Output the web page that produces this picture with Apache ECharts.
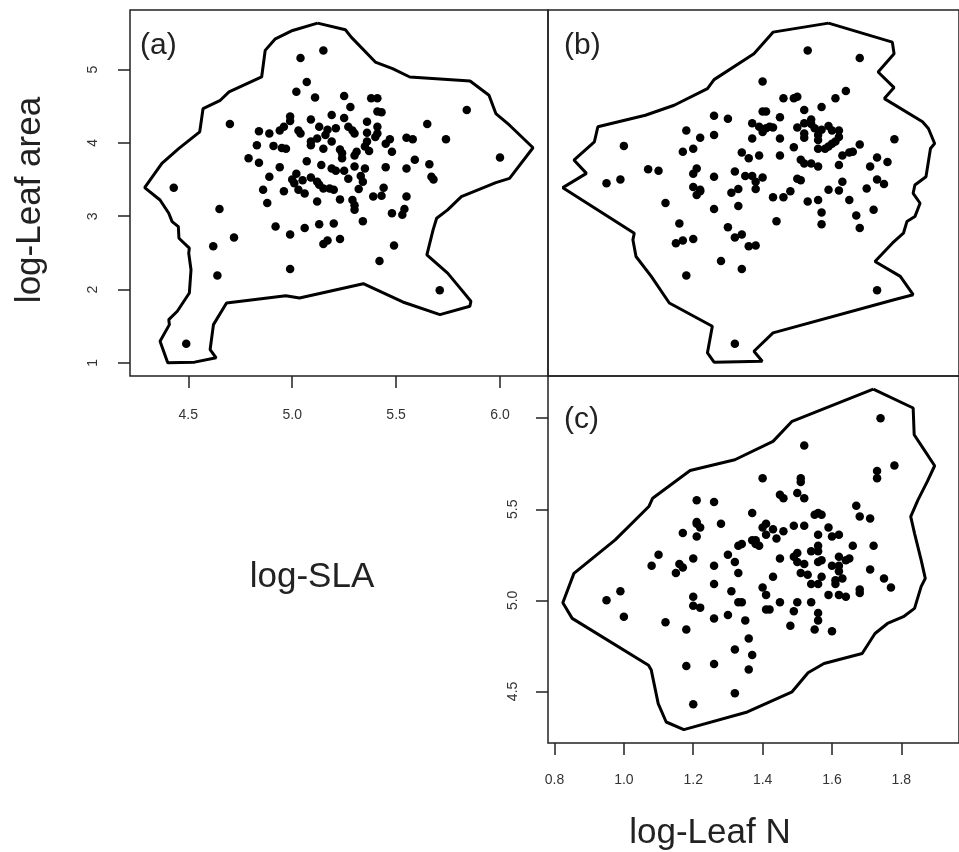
<!DOCTYPE html>
<html><head><meta charset="utf-8">
<script src="https://cdn.jsdelivr.net/npm/echarts@6/dist/echarts.min.js"></script>
<style>html,body{margin:0;padding:0;background:#fff}#c{width:959px;height:852px}</style>
</head><body><div id="c"></div>
<script>
// tick values
const slaTicks = [4.5, 5.0, 5.5, 6.0];
const leafAreaTicks = [1, 2, 3, 4, 5];
const leafNTicks = [0.8, 1.0, 1.2, 1.4, 1.6, 1.8];
const slaTicksC = [4.5, 5.0, 5.5, 6.0];
const slaLabelsC = [4.5, 5.0, 5.5];

// panel (a): [log-SLA, log-Leaf area]
const panelA = [[5.07,4.83],[5.02,4.70],[5.11,4.62],[5.25,4.64],[5.38,4.61],[5.41,4.61],[5.28,4.49],[5.41,4.43],[5.43,4.42],[5.84,4.45],
[4.99,4.36],[4.99,4.30],[5.19,4.38],[5.25,4.34],[5.09,4.32],[5.36,4.29],[4.70,4.26],[4.96,4.22],[4.94,4.17],[4.84,4.16],
[4.89,4.13],[5.03,4.17],[5.04,4.13],[5.13,4.22],[5.17,4.18],[5.21,4.20],[5.27,4.22],[5.29,4.17],[5.30,4.13],[5.36,4.14],
[5.41,4.22],[5.41,4.13],[5.65,4.26],[5.12,4.06],[5.09,4.02],[5.09,3.97],[5.16,4.11],[5.19,4.02],[5.40,4.08],[5.47,4.05],
[5.45,3.99],[5.55,4.07],[5.58,4.05],[5.74,4.05],[4.83,3.97],[4.91,3.96],[4.95,3.93],[4.97,3.92],[5.36,4.02],[5.35,3.95],
[5.37,3.89],[5.15,3.92],[5.23,3.91],[5.24,3.86],[5.24,3.79],[5.31,3.88],[5.30,3.83],[5.48,3.88],[4.79,3.79],[4.84,3.73],
[5.07,3.75],[5.14,3.70],[5.59,3.77],[5.66,3.71],[4.94,3.67],[5.19,3.65],[5.21,3.62],[5.25,3.62],[5.30,3.68],[5.35,3.65],
[5.45,3.67],[5.55,3.65],[4.89,3.54],[5.09,3.53],[5.02,3.58],[5.67,3.54],[5.68,3.50],[5.00,3.50],[5.01,3.45],[5.05,3.49],
[5.12,3.47],[5.13,3.43],[5.27,3.51],[5.33,3.55],[5.34,3.47],[4.86,3.36],[4.96,3.34],[5.03,3.36],[5.06,3.31],[5.15,3.38],
[5.18,3.38],[5.20,3.36],[5.32,3.37],[5.44,3.39],[4.88,3.18],[5.12,3.20],[5.23,3.23],[5.29,3.22],[5.30,3.15],[5.30,3.09],
[5.39,3.27],[5.43,3.28],[5.55,3.27],[5.54,3.10],[5.53,3.02],[5.48,3.04],[4.92,2.86],[4.99,2.75],[5.06,2.84],[5.13,2.89],
[5.20,2.90],[5.34,2.93],[4.72,2.71],[5.15,2.62],[5.17,2.67],[5.23,2.69],[5.49,2.60],
[5.15,5.26],[5.04,5.16],[4.43,3.39],[4.65,3.10],[4.62,2.59],[4.64,2.19],[5.42,2.39],[4.99,2.28],[5.71,1.99],[4.49,1.26],[6.00,3.80]];

// panel (b): [log-Leaf N, log-Leaf area]
const panelB = [[1.53,5.26],[1.68,5.16],[1.40,4.84],[1.64,4.71],[1.61,4.61],[1.46,4.61],[1.49,4.61],[1.50,4.63],[1.57,4.49],[1.52,4.45],
[1.26,4.37],[1.30,4.33],[1.40,4.43],[1.41,4.43],[1.45,4.35],[1.37,4.27],[1.39,4.22],[1.40,4.15],[1.41,4.20],[1.42,4.22],
[1.43,4.21],[1.50,4.21],[1.52,4.27],[1.54,4.32],[1.54,4.26],[1.55,4.20],[1.52,4.13],[1.52,4.07],[1.59,4.23],[1.57,4.18],
[1.56,4.11],[1.56,4.04],[1.56,3.92],[1.58,3.92],[1.59,3.95],[1.60,3.99],[1.61,4.02],[1.62,4.08],[1.62,4.17],[1.60,4.17],
[1.18,4.17],[1.26,4.11],[1.22,4.07],[1.37,4.06],[1.45,4.06],[1.78,4.05],[1.00,3.96],[1.17,3.88],[1.20,3.92],[1.34,3.87],
[1.39,3.83],[1.36,3.79],[1.45,3.83],[1.49,3.94],[1.68,3.98],[1.66,3.88],[1.65,3.87],[1.63,3.83],[1.73,3.80],[1.76,3.74],
[1.51,3.77],[1.52,3.72],[1.54,3.72],[1.56,3.68],[1.62,3.70],[1.71,3.68],[1.07,3.64],[1.10,3.62],[1.21,3.65],[1.20,3.58],
[1.26,3.54],[1.32,3.61],[1.35,3.55],[1.37,3.55],[1.40,3.53],[1.38,3.47],[1.50,3.51],[1.51,3.49],[1.63,3.47],[1.73,3.50],
[1.75,3.44],[0.95,3.45],[0.99,3.50],[1.20,3.40],[1.22,3.36],[1.21,3.29],[1.22,3.34],[1.33,3.37],[1.38,3.37],[1.31,3.32],
[1.48,3.34],[1.59,3.36],[1.62,3.35],[1.70,3.38],[1.43,3.26],[1.46,3.26],[1.53,3.20],[1.56,3.22],[1.65,3.22],[1.12,3.18],
[1.26,3.10],[1.33,3.14],[1.57,3.05],[1.67,3.01],[1.72,3.09],[1.16,2.90],[1.44,2.93],[1.57,2.89],[1.30,2.85],[1.68,2.84],
[1.34,2.75],[1.32,2.71],[1.15,2.63],[1.17,2.67],[1.20,2.69],[1.36,2.59],[1.38,2.60],[1.28,2.39],[1.34,2.28],[1.18,2.19],
[1.73,1.99],[1.32,1.26]];

// panel (c): [log-Leaf N, log-SLA]
const panelC = [[1.74,6.00],[1.52,5.85],[1.78,5.74],[1.73,5.71],[1.73,5.67],[1.40,5.67],[1.51,5.67],[1.51,5.65],[1.50,5.59],[1.52,5.56],
[1.45,5.58],[1.46,5.56],[1.21,5.55],[1.26,5.54],[1.67,5.52],[1.37,5.48],[1.56,5.48],[1.57,5.47],[1.55,5.47],[1.68,5.46],
[1.71,5.45],[1.21,5.43],[1.21,5.42],[1.22,5.40],[1.28,5.42],[1.41,5.42],[1.40,5.40],[1.49,5.41],[1.52,5.41],[1.59,5.40],
[1.43,5.39],[1.46,5.38],[1.17,5.37],[1.21,5.35],[1.41,5.36],[1.44,5.34],[1.56,5.36],[1.60,5.35],[1.62,5.36],[1.37,5.33],
[1.38,5.33],[1.38,5.31],[1.39,5.30],[1.34,5.31],[1.33,5.30],[1.66,5.30],[1.72,5.30],[1.10,5.25],[1.30,5.25],[1.20,5.23],
[1.32,5.21],[1.45,5.23],[1.50,5.26],[1.49,5.24],[1.54,5.27],[1.56,5.30],[1.56,5.27],[1.57,5.22],[1.62,5.24],[1.65,5.23],
[1.64,5.22],[1.08,5.19],[1.16,5.20],[1.17,5.18],[1.26,5.19],[1.50,5.21],[1.52,5.20],[1.56,5.21],[1.15,5.15],[1.33,5.15],
[1.51,5.15],[1.53,5.14],[1.60,5.19],[1.62,5.19],[1.62,5.16],[1.71,5.17],[1.57,5.13],[1.43,5.13],[1.54,5.09],[1.56,5.09],
[1.61,5.11],[1.61,5.09],[1.63,5.12],[1.26,5.09],[1.31,5.05],[1.40,5.07],[0.99,5.05],[0.95,5.00],[1.75,5.12],[1.77,5.07],
[1.41,5.03],[1.59,5.03],[1.62,5.03],[1.64,5.02],[1.68,5.04],[1.68,5.06],[1.20,5.02],[1.33,4.99],[1.34,4.99],[1.45,4.99],
[1.50,4.99],[1.54,4.99],[1.20,4.97],[1.22,4.96],[1.41,4.95],[1.42,4.95],[1.49,4.94],[1.56,4.93],[1.00,4.91],[1.12,4.88],
[1.26,4.90],[1.30,4.92],[1.35,4.89],[1.18,4.84],[1.48,4.86],[1.55,4.84],[1.56,4.89],[1.60,4.83],[1.36,4.79],[1.32,4.73],
[1.37,4.70],[1.18,4.64],[1.26,4.65],[1.36,4.62],[1.32,4.49],[1.20,4.43]];

// hull outlines
const hullA = [[5.122,5.635],[5.256,5.544],[5.284,5.444],[5.400,5.104],[5.483,5.013],[5.566,4.900],[5.856,4.846],[5.947,4.650],[5.980,4.401],[6.046,4.242],[6.159,3.934],[6.046,3.517],[5.980,3.458],[5.814,3.267],[5.748,3.086],[5.695,2.972],[5.678,2.814],[5.648,2.474],[5.748,2.224],[5.814,1.998],[5.860,1.839],[5.855,1.771],[5.711,1.657],[5.532,1.830],[5.342,2.079],[5.035,1.884],[4.969,1.916],[4.684,1.816],[4.621,1.521],[4.605,1.181],[4.634,1.068],[4.530,1.009],[4.401,1.000],[4.364,1.295],[4.409,1.521],[4.406,1.589],[4.447,1.703],[4.505,1.952],[4.513,2.270],[4.502,2.496],[4.505,2.564],[4.455,2.700],[4.452,2.859],[4.422,2.927],[4.406,3.040],[4.364,3.222],[4.290,3.390],[4.373,3.721],[4.455,3.925],[4.555,4.152],[4.571,4.469],[4.654,4.582],[4.696,4.696],[4.853,4.900],[4.870,5.263],[4.919,5.421],[5.002,5.535],[5.122,5.635]];
const hullB = [[1.590,5.635],[1.774,5.376],[1.779,5.217],[1.733,4.968],[1.779,4.755],[1.751,4.605],[1.861,4.288],[1.878,4.197],[1.896,3.993],[1.884,3.925],[1.871,3.539],[1.839,3.426],[1.834,3.313],[1.854,3.177],[1.839,2.995],[1.816,2.927],[1.806,2.768],[1.774,2.632],[1.724,2.383],[1.797,2.179],[1.834,1.929],[1.779,1.861],[1.430,1.408],[1.375,1.158],[1.399,1.022],[1.260,1.009],[1.241,1.136],[1.255,1.499],[1.131,1.816],[1.079,2.179],[1.035,2.451],[1.026,2.678],[1.030,2.768],[0.824,3.390],[0.892,3.585],[0.856,3.766],[0.915,4.016],[0.925,4.220],[1.062,4.378],[1.145,4.514],[1.241,4.741],[1.260,4.864],[1.375,5.217],[1.430,5.512],[1.590,5.635]];
const hullC = [[1.719,6.160],[1.834,6.056],[1.837,5.909],[1.862,5.837],[1.896,5.739],[1.875,5.653],[1.848,5.552],[1.827,5.460],[1.838,5.368],[1.857,5.222],[1.869,5.121],[1.857,5.075],[1.838,4.956],[1.806,4.910],[1.760,4.873],[1.724,4.818],[1.687,4.708],[1.577,4.653],[1.531,4.602],[1.485,4.498],[1.356,4.387],[1.173,4.290],[1.122,4.332],[1.099,4.433],[1.079,4.617],[1.071,4.644],[0.851,4.901],[0.824,4.987],[0.856,5.148],[0.975,5.332],[1.072,5.515],[1.083,5.561],[1.191,5.713],[1.320,5.772],[1.430,5.873],[1.485,5.983],[1.719,6.160]];

const FONT = '"Liberation Sans", Arial, Helvetica, sans-serif';
const INK = '#222';
const tickStyle = { show: true, length: 12, inside: false, lineStyle: { color: INK, width: 1.5 } };
const labelBase = { show: true, color: '#333', fontSize: 14, fontFamily: FONT };

const chart = echarts.init(document.getElementById('c'), null, { renderer: 'canvas' });
const gridStyle = { show: true, borderColor: INK, borderWidth: 1.5, backgroundColor: 'transparent', containLabel: false };

function hidden(extra) {
  return Object.assign({ type: 'value', axisLine: { show: false }, axisTick: { show: false }, axisLabel: { show: false }, splitLine: { show: false } }, extra);
}
const dotStyle = { color: '#000', opacity: 1 };

chart.setOption({
  animation: false,
  backgroundColor: '#fff',
  grid: [
    Object.assign({ left: 130, top: 10, width: 418, height: 366 }, gridStyle),
    Object.assign({ left: 548, top: 10, width: 430, height: 366 }, gridStyle),
    Object.assign({ left: 548, top: 376, width: 430, height: 367 }, gridStyle)
  ],
  xAxis: [
    { type: 'value', gridIndex: 0, min: 4.2194, max: 6.231, axisLine: { show: false }, splitLine: { show: false },
      axisTick: Object.assign({ customValues: slaTicks }, tickStyle),
      axisLabel: Object.assign({ customValues: slaTicks, margin: 32, formatter: v => v.toFixed(1) }, labelBase) },
    hidden({ gridIndex: 1, min: 0.78126, max: 1.9662 }),
    { type: 'value', gridIndex: 2, min: 0.78126, max: 1.9662, axisLine: { show: false }, splitLine: { show: false },
      axisTick: Object.assign({ customValues: leafNTicks }, tickStyle),
      axisLabel: Object.assign({ customValues: leafNTicks, margin: 30, formatter: v => v.toFixed(1) }, labelBase) }
  ],
  yAxis: [
    { type: 'value', gridIndex: 0, min: 0.820, max: 5.814, axisLine: { show: false }, splitLine: { show: false },
      axisTick: Object.assign({ customValues: leafAreaTicks }, tickStyle),
      axisLabel: Object.assign({ customValues: leafAreaTicks, margin: 30, rotate: 90, formatter: v => String(v) }, labelBase) },
    hidden({ gridIndex: 1, min: 0.820, max: 5.814 }),
    { type: 'value', gridIndex: 2, min: 4.2167, max: 6.2318, axisLine: { show: false }, splitLine: { show: false },
      axisTick: Object.assign({ customValues: slaTicksC }, tickStyle),
      axisLabel: Object.assign({ customValues: slaLabelsC, margin: 28, rotate: 90, formatter: v => v.toFixed(1) }, labelBase) }
  ],
  series: [
    { type: 'line', xAxisIndex: 0, yAxisIndex: 0, data: hullA, symbol: 'none', lineStyle: { color: '#000', width: 3 }, z: 2 },
    { type: 'line', xAxisIndex: 1, yAxisIndex: 1, data: hullB, symbol: 'none', lineStyle: { color: '#000', width: 3 }, z: 2 },
    { type: 'line', xAxisIndex: 2, yAxisIndex: 2, data: hullC, symbol: 'none', lineStyle: { color: '#000', width: 3 }, z: 2 },
    { type: 'scatter', xAxisIndex: 0, yAxisIndex: 0, data: panelA, symbolSize: 8.5, itemStyle: dotStyle, z: 3 },
    { type: 'scatter', xAxisIndex: 1, yAxisIndex: 1, data: panelB, symbolSize: 8.5, itemStyle: dotStyle, z: 3 },
    { type: 'scatter', xAxisIndex: 2, yAxisIndex: 2, data: panelC, symbolSize: 8.5, itemStyle: dotStyle, z: 3 }
  ],
  graphic: [
    { type: 'text', x: 30, y: 200, rotation: Math.PI / 2, style: { text: 'log-Leaf area', font: '35px ' + FONT, fill: '#222', textAlign: 'center', textVerticalAlign: 'middle' } },
    { type: 'text', x: 312, y: 577, style: { text: 'log-SLA', font: '35px ' + FONT, fill: '#222', textAlign: 'center', textVerticalAlign: 'middle' } },
    { type: 'text', x: 710, y: 833, style: { text: 'log-Leaf N', font: '35px ' + FONT, fill: '#222', textAlign: 'center', textVerticalAlign: 'middle' } },
    { type: 'text', x: 140, y: 46, style: { text: '(a)', font: '30px ' + FONT, fill: '#222', textAlign: 'left', textVerticalAlign: 'middle' } },
    { type: 'text', x: 564, y: 46, style: { text: '(b)', font: '30px ' + FONT, fill: '#222', textAlign: 'left', textVerticalAlign: 'middle' } },
    { type: 'text', x: 564, y: 420, style: { text: '(c)', font: '30px ' + FONT, fill: '#222', textAlign: 'left', textVerticalAlign: 'middle' } }
  ]
});
</script></body></html>
